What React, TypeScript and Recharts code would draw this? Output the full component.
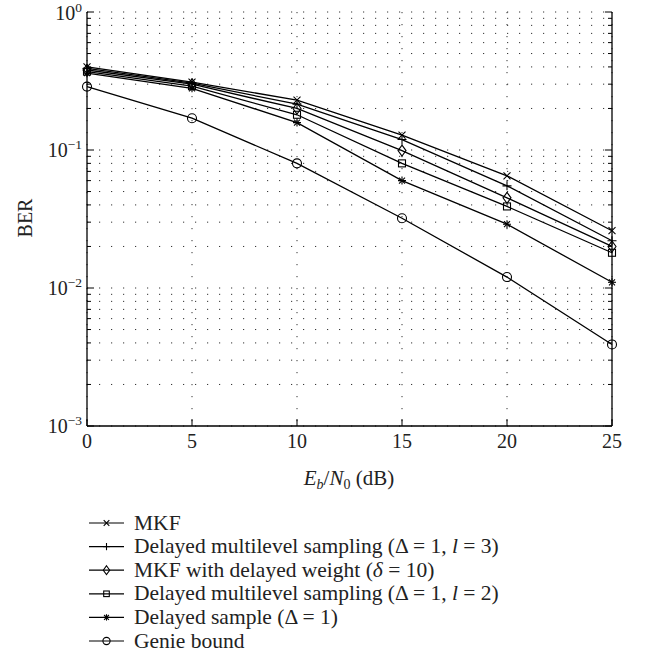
import React from 'react';
import {
  LineChart,
  Line,
  XAxis,
  YAxis,
  CartesianGrid,
} from 'recharts';

const snr = [0, 5, 10, 15, 20, 25];

const mkf = [0.4, 0.31, 0.23, 0.128, 0.065, 0.026];
const dmsL3 = [0.39, 0.305, 0.215, 0.119, 0.055, 0.022];
const mkfDelayedWeight = [0.38, 0.3, 0.2, 0.099, 0.045, 0.02];
const dmsL2 = [0.37, 0.29, 0.18, 0.08, 0.039, 0.018];
const delayedSample = [0.36, 0.28, 0.158, 0.06, 0.029, 0.011];
const genie = [0.288, 0.17, 0.08, 0.032, 0.012, 0.0039];

const xTicks = [0, 5, 10, 15, 20, 25];
const majorY = [0.001, 0.01, 0.1, 1];
const exponents = ['\u22123', '\u22122', '\u22121', '0'];
const minorMult = [2, 3, 4, 5, 6, 7, 8, 9];
const yTicks: number[] = [];
majorY.forEach((m, i) => {
  yTicks.push(m);
  if (i < majorY.length - 1) minorMult.forEach((k) => yTicks.push(+(m * k).toPrecision(3)));
});

const series = [
  { key: 'mkf', values: mkf, marker: 'x' },
  { key: 'dmsL3', values: dmsL3, marker: 'plus' },
  { key: 'mkfDw', values: mkfDelayedWeight, marker: 'diamond' },
  { key: 'dmsL2', values: dmsL2, marker: 'square' },
  { key: 'ds', values: delayedSample, marker: 'star' },
  { key: 'genie', values: genie, marker: 'circle' },
];

const data = snr.map((x, i) => {
  const row: Record<string, number> = { snr: x };
  series.forEach((s) => (row[s.key] = s.values[i]));
  return row;
});

const FONT = "'Liberation Serif', 'Times New Roman', 'DejaVu Serif', serif";

const Marker = ({ cx, cy, type, s = 1 }: { cx: number; cy: number; type: string; s?: number }) => {
  const st = { stroke: '#000', strokeWidth: 1.1, fill: 'none' };
  if (type === 'x') {
    const d = 3.5 * s;
    return (
      <g {...st}>
        <line x1={cx - d} y1={cy - d} x2={cx + d} y2={cy + d} />
        <line x1={cx - d} y1={cy + d} x2={cx + d} y2={cy - d} />
      </g>
    );
  }
  if (type === 'plus') {
    const d = 4.5 * s;
    return (
      <g {...st}>
        <line x1={cx - d} y1={cy} x2={cx + d} y2={cy} />
        <line x1={cx} y1={cy - d} x2={cx} y2={cy + d} />
      </g>
    );
  }
  if (type === 'diamond') {
    const w = 4 * s;
    const h = 5.5 * s;
    return <polygon {...st} points={`${cx},${cy - h} ${cx + w},${cy} ${cx},${cy + h} ${cx - w},${cy}`} />;
  }
  if (type === 'square') {
    const d = 3.5 * s;
    return <rect {...st} x={cx - d} y={cy - d} width={2 * d} height={2 * d} />;
  }
  if (type === 'star') {
    const d = 4 * s;
    const e = 3 * s;
    return (
      <g {...st}>
        <line x1={cx - d} y1={cy} x2={cx + d} y2={cy} />
        <line x1={cx} y1={cy - d} x2={cx} y2={cy + d} />
        <line x1={cx - e} y1={cy - e} x2={cx + e} y2={cy + e} />
        <line x1={cx - e} y1={cy + e} x2={cx + e} y2={cy - e} />
      </g>
    );
  }
  return <circle {...st} cx={cx} cy={cy} r={4.5 * s} />;
};

// inward ticks on all four sides
const LeftTick = (props: any) => {
  const { x, y, payload } = props;
  const idx = majorY.indexOf(payload.value);
  const major = idx >= 0;
  // the top label sits a little lower so it stays inside the page
  const by = payload.value === 1 ? y + 8 : y + 7;
  return (
    <g>
      <line x1={x} x2={x + (major ? 7 : 4)} y1={y} y2={y} stroke="#000" />
      {major && (
        <text x={x - 5} y={by} textAnchor="end" fontFamily={FONT} fontSize={20} fill="#222">
          10<tspan dy={-8} fontSize={13.5}>{exponents[idx]}</tspan>
        </text>
      )}
    </g>
  );
};

const RightTick = (props: any) => {
  const { x, y, payload } = props;
  const major = majorY.includes(payload.value);
  return <line x1={x - (major ? 7 : 4)} x2={x} y1={y} y2={y} stroke="#000" />;
};

const BottomTick = (props: any) => {
  const { x, y, payload } = props;
  return (
    <g>
      <line x1={x} x2={x} y1={y} y2={y - 7} stroke="#000" />
      <text x={x} y={y + 22} textAnchor="middle" fontFamily={FONT} fontSize={20} fill="#222">
        {payload.value}
      </text>
    </g>
  );
};

const TopTick = (props: any) => {
  const { x, y } = props;
  return <line x1={x} x2={x} y1={y} y2={y + 7} stroke="#000" />;
};

const legendItems: { marker: string; label: React.ReactNode }[] = [
  { marker: 'x', label: 'MKF' },
  {
    marker: 'plus',
    label: (
      <>
        Delayed multilevel sampling (Δ = 1, <tspan fontStyle="italic">l</tspan> = 3)
      </>
    ),
  },
  {
    marker: 'diamond',
    label: (
      <>
        MKF with delayed weight (<tspan fontStyle="italic">δ</tspan> = 10)
      </>
    ),
  },
  {
    marker: 'square',
    label: (
      <>
        Delayed multilevel sampling (Δ = 1, <tspan fontStyle="italic">l</tspan> = 2)
      </>
    ),
  },
  { marker: 'star', label: 'Delayed sample (Δ = 1)' },
  { marker: 'circle', label: 'Genie bound' },
];

export default function App() {
  return (
    <div style={{ position: 'absolute', left: 0, top: 0, width: 648, height: 654, background: '#fff' }}>
      <LineChart width={648} height={500} data={data} margin={{ top: 12, right: 0, left: 0, bottom: 0 }}>
        <CartesianGrid stroke="#333" strokeDasharray="1.2 10.8" />
        <XAxis
          dataKey="snr"
          type="number"
          domain={[0, 25]}
          ticks={xTicks}
          interval={0}
          height={74}
          tickSize={0}
          tickMargin={0}
          tickLine={false}
          axisLine={{ stroke: '#000', strokeWidth: 1.3 }}
          tick={BottomTick}
        />
        <XAxis
          xAxisId="top"
          orientation="top"
          type="number"
          domain={[0, 25]}
          allowDataOverflow
          ticks={xTicks}
          interval={0}
          height={0}
          tickSize={0}
          tickMargin={0}
          tickLine={false}
          axisLine={{ stroke: '#000', strokeWidth: 1.3 }}
          tick={TopTick}
        />
        <YAxis
          scale="log"
          type="number"
          domain={[0.001, 1]}
          allowDataOverflow
          ticks={yTicks}
          interval={0}
          width={87}
          tickSize={0}
          tickMargin={0}
          tickLine={false}
          axisLine={{ stroke: '#000', strokeWidth: 1.3 }}
          tick={LeftTick}
        />
        <YAxis
          yAxisId="right"
          orientation="right"
          scale="log"
          type="number"
          domain={[0.001, 1]}
          allowDataOverflow
          ticks={yTicks}
          interval={0}
          width={36}
          tickSize={0}
          tickMargin={0}
          tickLine={false}
          axisLine={{ stroke: '#000', strokeWidth: 1.3 }}
          tick={RightTick}
        />
        {series.map((s) => (
          <Line
            key={s.key}
            dataKey={s.key}
            type="linear"
            stroke="#000"
            strokeWidth={1.3}
            isAnimationActive={false}
            dot={(p: any) => <Marker key={`${s.key}-${p.index}`} cx={p.cx} cy={p.cy} type={s.marker} />}
            activeDot={false}
          />
        ))}
      </LineChart>
      <svg
        width={648}
        height={654}
        style={{ position: 'absolute', left: 0, top: 0, pointerEvents: 'none' }}
        fontFamily={FONT}
        fontSize={20}
        fill="#222"
      >
        <text transform="translate(32,218) rotate(-90)" textAnchor="middle">
          BER
        </text>
        <text x={349} y={485} textAnchor="middle" fontSize={21}>
          <tspan fontStyle="italic">E</tspan>
          <tspan fontStyle="italic" fontSize={14} dy={4}>b</tspan>
          <tspan dy={-4}>/</tspan>
          <tspan fontStyle="italic">N</tspan>
          <tspan fontSize={14} dy={4}>0</tspan>
          <tspan dy={-4}> (dB)</tspan>
        </text>
        {legendItems.map((item, i) => {
          const y = 523 + i * 23.6;
          return (
            <g key={i}>
              <line x1={89} x2={124} y1={y} y2={y} stroke="#000" strokeWidth={1.2} />
              <Marker cx={106.5} cy={y} type={item.marker} s={0.8} />
              <text x={134} y={y + 6.5} fontSize={21.5}>
                {item.label}
              </text>
            </g>
          );
        })}
      </svg>
    </div>
  );
}
